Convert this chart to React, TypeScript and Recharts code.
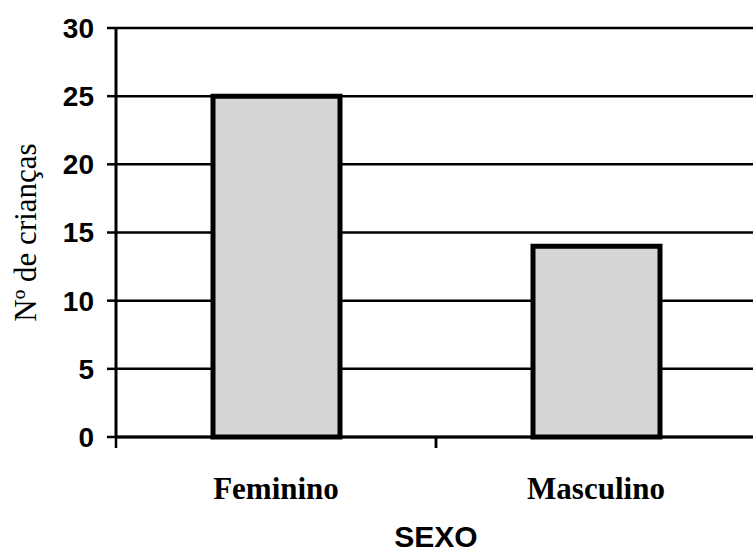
import { BarChart, Bar, XAxis, YAxis, CartesianGrid, Label } from 'recharts'

const categories = ['Feminino', 'Masculino']
const counts = [25, 14]
const yTicks = [0, 5, 10, 15, 20, 25, 30]

const data = categories.map((sexo, i) => ({ sexo, n: counts[i] }))

const sans = '"Liberation Sans", Arial, sans-serif'
const serif = '"Liberation Serif", "Times New Roman", serif'

function YTitle(props: any) {
  const vb = props.viewBox
  const cx = 25
  const cy = vb.y + vb.height / 2
  return (
    <text
      x={cx}
      y={cy}
      transform={`rotate(-90, ${cx}, ${cy})`}
      textAnchor="middle"
      dominantBaseline="central"
      fontFamily={serif}
      fontSize={31}
      fill="#000"
    >
      Nº de crianças
    </text>
  )
}

// category label plus the tick marks at the band edges
function CatTick(props: any) {
  const { x, y, payload } = props
  const half = payload.offset || 0
  const axisY = y - 40
  return (
    <g>
      <line x1={x - half} y1={axisY} x2={x - half} y2={axisY + 11} stroke="#000" strokeWidth={2.5} />
      <line x1={x + half} y1={axisY} x2={x + half} y2={axisY + 11} stroke="#000" strokeWidth={2.5} />
      <text x={x} y={y} dy="0.71em" textAnchor="middle" fontFamily={serif} fontWeight="bold" fontSize={31} fill="#000">
        {payload.value}
      </text>
    </g>
  )
}

export default function App() {
  return (
    <div style={{ position: 'absolute', left: 0, top: 0, width: 753, height: 552, overflow: 'hidden', background: '#fff' }}>
      <BarChart width={770} height={552} data={data} margin={{ top: 28, right: 14, left: 0, bottom: 0 }}>
        <CartesianGrid vertical={false} stroke="#000" strokeWidth={2.5} />
        <XAxis
          dataKey="sexo"
          height={115}
          tickSize={0}
          tickMargin={40}
          tickLine={false}
          axisLine={{ stroke: '#000', strokeWidth: 3 }}
          tick={<CatTick />}
        >
          <Label
            value="SEXO"
            position="insideBottom"
            offset={5}
            style={{ fontFamily: sans, fontWeight: 'bold', fontSize: 30, fill: '#000' }}
          />
        </XAxis>
        <YAxis
          width={116}
          domain={[0, 30]}
          ticks={yTicks}
          interval={0}
          tickSize={9}
          tickMargin={13}
          axisLine={{ stroke: '#000', strokeWidth: 3 }}
          tickLine={{ stroke: '#000', strokeWidth: 2.5 }}
          tick={{ fontFamily: sans, fontWeight: 'bold', fontSize: 28, fill: '#000' }}
        >
          <Label content={YTitle} />
        </YAxis>
        <Bar dataKey="n" barSize={127} fill="#d6d6d6" stroke="#000" strokeWidth={5} isAnimationActive={false} />
      </BarChart>
    </div>
  )
}
